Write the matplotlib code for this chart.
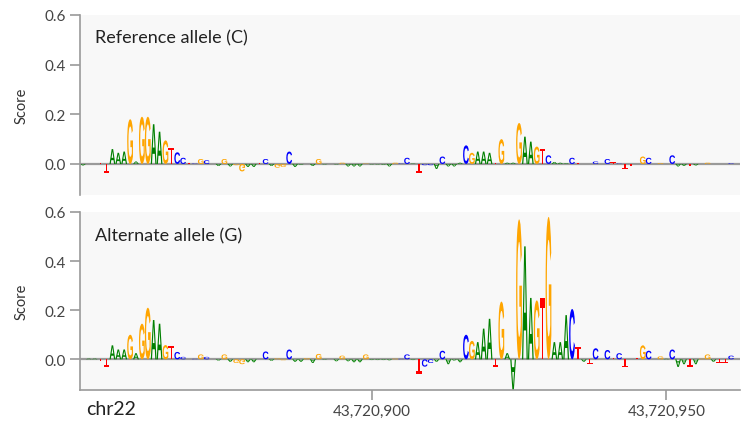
import matplotlib
matplotlib.use("Agg")
import matplotlib.pyplot as plt
from matplotlib.textpath import TextPath
from matplotlib.patches import PathPatch
from matplotlib.font_manager import FontProperties
from matplotlib.transforms import Affine2D
from matplotlib.ticker import FuncFormatter

plt.rcParams['font.family'] = ['Lato', 'DejaVu Sans']

# ---- data ----
start_pos = 43720851
sequence_ref = ("AAATTAAAGAGGAAGTCCTCGCAAGAGGAATCAGGCAAGAGACAGAAAGAAAAGCCATCCACAAACGAAATGAAGAAGTC"
                "AAACTATCTCTCTTTGCAGACAATAGGATTCA")
variant_offset = 79          # index of the variant base within the window
alt_base = "G"

ref_scores = [-0.006, 0.0, 0.0, 0.005, -0.035, 0.06, 0.045, 0.05, 0.18, 0.01,
              0.19, 0.19, 0.16, 0.13, 0.095, 0.065, 0.047, 0.025, 0.005, 0.002,
              0.02, 0.015, 0.0, -0.008, 0.02, -0.01, -0.005, -0.03, -0.012, -0.012,
              0.004, 0.02, -0.008, -0.015, -0.012, 0.05, -0.012, -0.003, 0.0, -0.008,
              0.02, -0.002, 0.0, -0.002, 0.005, -0.01, -0.01, -0.01, 0.002, -0.002,
              -0.002, -0.003, -0.01, 0.005, 0.002, 0.025, 0.002, -0.035, -0.005, -0.005,
              -0.02, 0.03, -0.01, -0.01, 0.005, 0.075, 0.045, 0.05, 0.05, 0.045,
              0.005, 0.10, 0.005, 0.005, 0.165, 0.11, 0.09, 0.07, 0.06, 0.035,
              0.008, 0.005, 0.003, 0.025, 0.005, 0.0, 0.0, 0.01, 0.0, 0.02,
              0.007, 0.002, -0.02, -0.01, 0.0, 0.03, 0.025, 0.0, 0.004, 0.0,
              0.035, -0.01, -0.008, -0.01, -0.006, 0.0, 0.005, 0.0, 0.0, 0.0,
              0.003, 0.0]

alt_scores = [0.0, 0.003, 0.003, -0.006, -0.03, 0.057, 0.04, 0.04, 0.10, 0.025,
              0.145, 0.21, 0.16, 0.145, 0.058, 0.055, 0.03, 0.01, 0.003, 0.002,
              0.02, 0.01, 0.0, -0.005, 0.02, -0.01, -0.015, -0.02, -0.012, -0.012,
              0.002, 0.032, -0.006, 0.004, -0.004, 0.04, -0.01, -0.01, 0.005, -0.015,
              0.022, -0.002, 0.0, -0.008, 0.015, -0.008, -0.012, -0.012, 0.02, -0.003,
              -0.003, -0.003, -0.004, 0.003, 0.002, 0.02, -0.003, -0.058, -0.03, -0.015,
              -0.01, 0.035, -0.02, -0.005, -0.012, 0.10, 0.075, 0.07, 0.125, 0.165,
              -0.03, 0.235, 0.025, -0.125, 0.57, 0.46, 0.25, 0.24, 0.25, 0.58,
              0.07, 0.07, 0.18, 0.205, 0.05, -0.01, -0.02, 0.045, 0.003, 0.038,
              0.004, 0.025, -0.033, 0.003, 0.005, 0.057, 0.035, 0.0, 0.012, 0.002,
              0.04, -0.031, -0.02, -0.03, -0.02, 0.003, 0.02, -0.01, -0.015, -0.015,
              0.015, 0.0]

panel_titles = ["Reference allele (C)", "Alternate allele (G)"]
xticks = [43720900, 43720950]
yticks = [0.0, 0.2, 0.4, 0.6]
chrom = "chr22"

colors = {"A": "#008000", "C": "#0000ff", "G": "#ffa500", "T": "#ff0000"}
letter_fp = FontProperties(family="Liberation Sans", weight="bold")
glyphs = {ch: TextPath((0, 0), ch, size=1, prop=letter_fp) for ch in "ACGT"}

positions = [start_pos + i for i in range(len(sequence_ref))]
sequence_alt = sequence_ref[:variant_offset] + alt_base + sequence_ref[variant_offset + 1:]


def draw_letter(ax, ch, x, h, width=0.98):
    if h == 0:
        return
    tp = glyphs[ch]
    bb = tp.get_extents()
    t = Affine2D().translate(-bb.x0, -bb.y0).scale(width / bb.width, abs(h) / bb.height)
    if h < 0:
        t = t.scale(1, -1)
    t = t.translate(x - width / 2, 0)
    ax.add_patch(PathPatch(t.transform_path(tp), fc=colors[ch], ec="none", lw=0))


fig = plt.figure(figsize=(7.5, 4.35), dpi=100)
ax_top = fig.add_axes([80 / 750, 1 - 196 / 435, 660 / 750, 180 / 435])
ax_bot = fig.add_axes([80 / 750, 1 - 391 / 435, 660 / 750, 178 / 435])

for ax, seq, scores, title, ty in [(ax_top, sequence_ref, ref_scores, panel_titles[0], 0.878),
                                   (ax_bot, sequence_alt, alt_scores, panel_titles[1], 0.871)]:
    ax.set_facecolor("#f8f8f8")
    ax.set_xlim(positions[0] - 0.5, positions[-1] + 0.5)
    ax.set_ylim(-0.125, 0.6)
    ax.axhline(0, color="#9a9a9a", lw=1.6, zorder=1)
    for p, ch, s in zip(positions, seq, scores):
        draw_letter(ax, ch, p, s)
    for sp in ["top", "right", "bottom"]:
        ax.spines[sp].set_visible(False)
    ax.spines["left"].set_color("#9a9a9a")
    ax.spines["left"].set_linewidth(1.2)
    ax.set_yticks(yticks)
    ax.yaxis.set_major_formatter(FuncFormatter(lambda v, _: f"{v:.1f}"))
    ax.tick_params(axis="y", colors="#9a9a9a", labelcolor="#444444", labelsize=11,
                   length=7, width=1.2)
    ax.set_ylabel("Score", fontsize=10.5, color="#333333", labelpad=11)
    ax.text(0.023, ty, title, transform=ax.transAxes, fontsize=13,
            color="#222222", va="center", ha="left")

ax_top.set_xticks([])
ax_bot.spines["bottom"].set_visible(True)
ax_bot.spines["bottom"].set_color("#9a9a9a")
ax_bot.spines["bottom"].set_linewidth(1.2)
ax_bot.set_xticks(xticks)
ax_bot.set_xticklabels([f"{v:,}" for v in xticks])
ax_bot.tick_params(axis="x", colors="#9a9a9a", labelcolor="#444444", labelsize=11,
                   length=7, width=1.2, pad=3)
ax_bot.text(0.01, -0.105, chrom, transform=ax_bot.transAxes, fontsize=14,
            color="#222222", va="center", ha="left")

fig.savefig("out.png", dpi=100)
